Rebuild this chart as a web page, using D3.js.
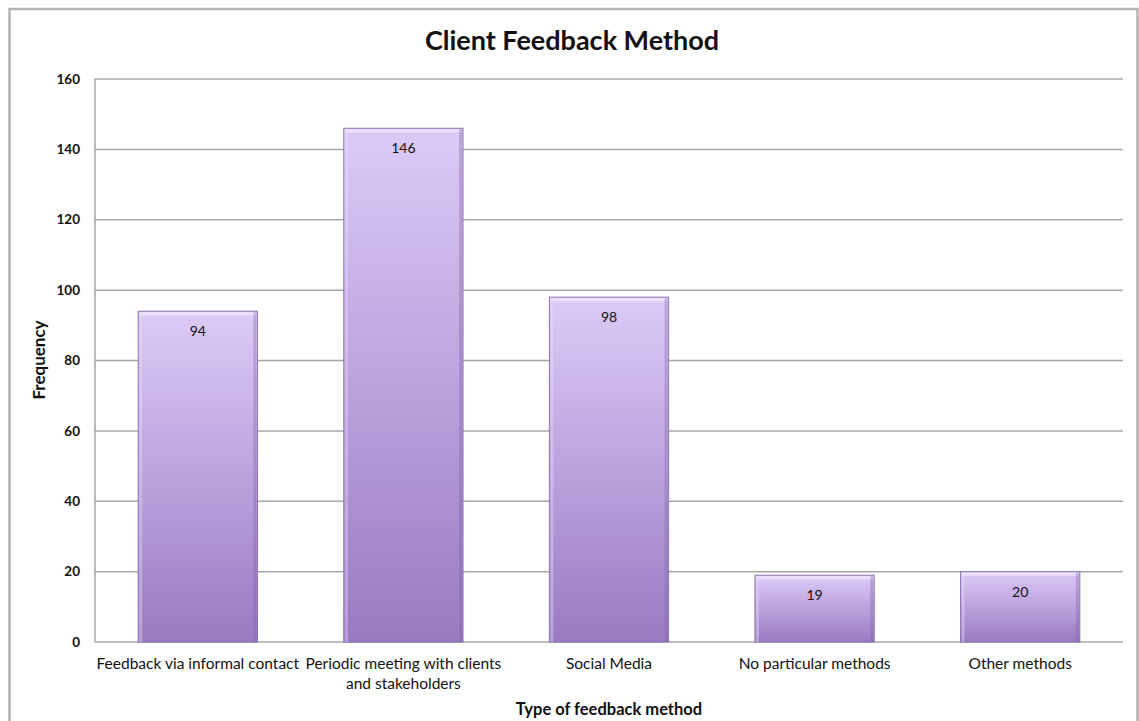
<!DOCTYPE html>
<html>
  <head>
    <meta charset="utf-8">
    <title>Client Feedback Method</title>
    <script src="https://d3js.org/d3.v7.min.js"></script>
    <style>
      body { margin: 0; background: #fff; }
      text { font-family: Lato, "Open Sans", sans-serif; fill: #111; }
    </style>
  </head>
  <body>
    <div id="chart"></div>
    <script>
      // data
      var categories = ["Feedback via informal contact",
                        "Periodic meeting with clients|and stakeholders",
                        "Social Media",
                        "No particular methods",
                        "Other methods"];
      var frequencies = [94, 146, 98, 19, 20];
      var yTicks = [0, 20, 40, 60, 80, 100, 120, 140, 160];

      var width = 1139;
      var height = 721;
      var margin = {top: 79, right: 16, bottom: 79, left: 95};

      var svg = d3.select("#chart")
            .append("svg")
            .attr("width", width)
            .attr("height", height);

      // gradient for the bars
      var defs = svg.append("defs");
      var grad = defs.append("linearGradient")
        .attr("id", "barGrad")
        .attr("x1", 0).attr("y1", 0).attr("x2", 0).attr("y2", 1);
      grad.append("stop").attr("offset", "0%").attr("stop-color", "#dccaf7");
      grad.append("stop").attr("offset", "100%").attr("stop-color", "#9a7ac3");

      // outer frame
      svg.append("rect")
        .attr("x", 9.5).attr("y", 9)
        .attr("width", 1128).attr("height", 740)
        .attr("fill", "none")
        .attr("stroke", "#b3b3b3")
        .attr("stroke-width", 2.5);

      var x = d3.scaleBand()
        .domain(categories)
        .range([margin.left, width - margin.right])
        .paddingInner(0.42)
        .paddingOuter(0.21);

      var y = d3.scaleLinear()
        .domain([0, 160])
        .range([642, margin.top]);

      // gridlines
      svg.append("g")
        .selectAll("line")
        .data(yTicks)
        .enter()
        .append("line")
        .attr("x1", margin.left)
        .attr("x2", width - margin.right)
        .attr("y1", function(d) { return y(d); })
        .attr("y2", function(d) { return y(d); })
        .attr("stroke", "#a6a6a6")
        .attr("stroke-width", 1.5);

      // left axis line
      svg.append("line")
        .attr("x1", margin.left).attr("x2", margin.left)
        .attr("y1", y(160)).attr("y2", y(0))
        .attr("stroke", "#a6a6a6")
        .attr("stroke-width", 1.5);

      // y tick labels
      svg.append("g")
        .selectAll("text")
        .data(yTicks)
        .enter()
        .append("text")
        .attr("x", 80)
        .attr("y", function(d) { return y(d); })
        .attr("dy", "0.35em")
        .attr("text-anchor", "end")
        .style("font-size", "13.5px")
        .style("font-weight", "bold")
        .text(function(d) { return d; });

      // bars
      var bars = svg.append("g")
        .selectAll("g")
        .data(frequencies)
        .enter()
        .append("g");

      bars.append("rect")
        .attr("x", function(d, i) { return x(categories[i]); })
        .attr("y", function(d) { return y(d); })
        .attr("width", x.bandwidth())
        .attr("height", function(d) { return y(0) - y(d); })
        .attr("fill", "url(#barGrad)")
        .attr("stroke", "#8c72b0")
        .attr("stroke-width", 1);

      // bevel highlight on top and sides
      bars.append("rect")
        .attr("x", function(d, i) { return x(categories[i]) + 1; })
        .attr("y", function(d) { return y(d) + 1; })
        .attr("width", x.bandwidth() - 2)
        .attr("height", 3)
        .attr("fill", "#f1e8ff")
        .attr("opacity", 0.8);

      bars.append("rect")
        .attr("x", function(d, i) { return x(categories[i]) + x.bandwidth() - 4; })
        .attr("y", function(d) { return y(d) + 1; })
        .attr("width", 3)
        .attr("height", function(d) { return y(0) - y(d) - 1; })
        .attr("fill", "#7d62a3")
        .attr("opacity", 0.35);

      bars.append("rect")
        .attr("x", function(d, i) { return x(categories[i]) + 1; })
        .attr("y", function(d) { return y(d) + 1; })
        .attr("width", 3)
        .attr("height", function(d) { return y(0) - y(d) - 1; })
        .attr("fill", "#e9defb")
        .attr("opacity", 0.4);

      // value labels
      bars.append("text")
        .attr("x", function(d, i) { return x(categories[i]) + x.bandwidth() / 2; })
        .attr("y", function(d) { return y(d) + 25; })
        .attr("text-anchor", "middle")
        .style("font-size", "14px")
        .text(function(d) { return d; });

      // category labels (| splits lines)
      var catLabels = svg.append("g")
        .selectAll("text")
        .data(categories)
        .enter()
        .append("text")
        .attr("x", function(d) { return x(d) + x.bandwidth() / 2; })
        .attr("y", 669)
        .attr("text-anchor", "middle")
        .style("font-size", "15.5px");

      catLabels.each(function(d) {
        var el = d3.select(this);
        d.split("|").forEach(function(line, k) {
          el.append("tspan")
            .attr("x", el.attr("x"))
            .attr("dy", k === 0 ? 0 : 20)
            .text(line);
        });
      });

      // title
      svg.append("text")
        .attr("x", 572)
        .attr("y", 50)
        .attr("text-anchor", "middle")
        .style("font-size", "27px")
        .style("font-weight", "bold")
        .text("Client Feedback Method");

      // axis titles
      svg.append("text")
        .attr("transform", "translate(45, 360) rotate(-90)")
        .attr("text-anchor", "middle")
        .style("font-size", "17px")
        .style("font-weight", "bold")
        .text("Frequency");

      svg.append("text")
        .attr("x", 609)
        .attr("y", 715)
        .attr("text-anchor", "middle")
        .style("font-size", "16.5px")
        .style("font-weight", "bold")
        .text("Type of feedback method");
    </script>
  </body>
</html>
